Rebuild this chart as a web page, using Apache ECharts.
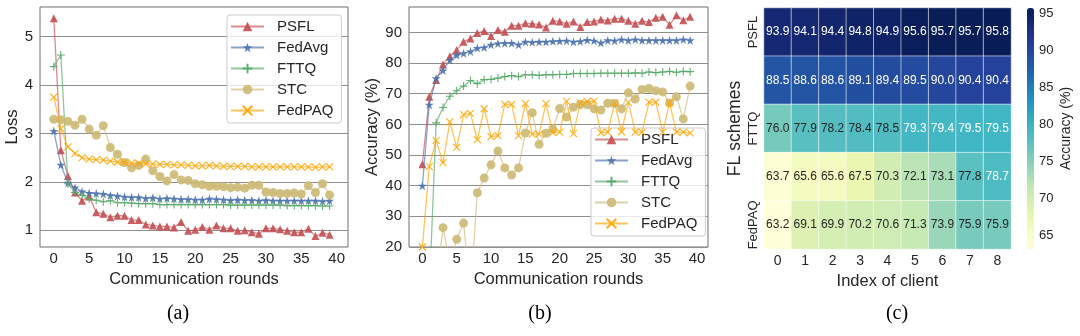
<!DOCTYPE html>
<html>
<head>
<meta charset="utf-8">
<script src="https://cdn.jsdelivr.net/npm/echarts@6/dist/echarts.min.js"></script>
<style>html,body{margin:0;padding:0;background:#fff;}#c{width:1080px;height:336px;}</style>
</head>
<body>
<div id="c"></div>
<script>
// ---------- data ----------
const schemes = ['PSFL', 'FedAvg', 'FTTQ', 'STC', 'FedPAQ'];
const roundTicks = [0, 5, 10, 15, 20, 25, 30, 35, 40];
const lossTicks = [1, 2, 3, 4, 5];
const accTicks = [20, 30, 40, 50, 60, 70, 80, 90];
const cbarTicks = [65, 70, 75, 80, 85, 90, 95];
const clients = ['0', '1', '2', '3', '4', '5', '6', '7', '8'];

const lossPSFL = [5.38,2.65,2.12,1.78,1.61,1.70,1.37,1.34,1.27,1.30,1.30,1.21,1.21,1.12,1.10,1.08,1.08,1.06,1.17,0.99,1.01,1.07,1.01,1.10,1.04,1.04,0.99,1.00,0.96,0.93,1.04,1.04,1.02,0.99,0.96,0.96,1.03,0.88,0.95,0.91];
const lossFedAvg = [3.05,2.35,1.98,1.88,1.80,1.77,1.76,1.75,1.72,1.71,1.69,1.68,1.68,1.66,1.67,1.65,1.66,1.65,1.64,1.64,1.63,1.63,1.65,1.64,1.63,1.62,1.63,1.62,1.62,1.61,1.62,1.61,1.61,1.61,1.61,1.61,1.61,1.61,1.60,1.61];
const lossFTTQ = [4.38,4.62,1.96,1.78,1.72,1.65,1.62,1.59,1.61,1.57,1.57,1.56,1.55,1.55,1.55,1.53,1.53,1.53,1.53,1.53,1.53,1.53,1.53,1.53,1.53,1.52,1.52,1.52,1.52,1.52,1.52,1.52,1.52,1.51,1.51,1.51,1.51,1.51,1.50,1.50];
const lossSTC = [3.29,3.28,3.25,3.17,3.29,3.09,2.96,3.16,2.71,2.57,2.40,2.29,2.34,2.47,2.23,2.11,2.02,2.15,2.04,2.03,1.96,1.94,1.91,1.91,1.90,1.88,1.89,1.87,1.93,1.93,1.79,1.78,1.76,1.76,1.77,1.75,1.92,1.78,1.96,1.73];
const lossFedPAQ = [3.75,3.10,2.72,2.59,2.50,2.47,2.46,2.45,2.43,2.41,2.40,2.39,2.38,2.37,2.37,2.36,2.36,2.35,2.35,2.34,2.33,2.33,2.34,2.33,2.32,2.32,2.32,2.32,2.31,2.31,2.31,2.31,2.31,2.31,2.31,2.31,2.31,2.30,2.31,2.31];

const accPSFL = [47,69,74.5,79.5,82.2,84.3,87,88,89.8,90.5,88.8,90.8,90.2,92.2,92.2,93,92.8,92.6,91.6,93.8,93.6,92.8,93.6,91.8,93.4,93.6,94.2,93.9,94.5,94.5,93.8,92.8,93.8,93.4,94.8,95.1,92.5,95.6,94.0,95.1];
const accFedAvg = [40,66.4,75,77.6,81,82.6,83.2,83.8,84.9,85.1,86,86.4,86.5,86.5,86,86.9,86.8,86.9,86.9,87.1,87.2,87.3,86.9,87.1,87.5,87.3,86.6,87.4,87.3,87.7,87.4,87.7,87.4,87.4,87.4,87.4,87.4,87.4,87.7,87.4];
const accFTTQ = [3,5,60.5,65.5,69.2,71,72.5,74.3,73.3,74.6,74.7,75.1,75.6,75.9,75.6,76.2,76.2,76.0,76.2,76.2,76.3,76.3,76.6,76.6,76.6,76.6,76.7,76.7,76.7,76.7,76.7,76.8,76.7,77.1,76.9,77.1,77.3,77.0,77.3,77.2];
const accSTC = [10,9,7.8,26.3,15,22.5,27.8,5,37.7,42.5,46.8,51.3,45.8,43.5,45.8,57.2,63.8,53.5,57.1,58.5,65.2,62.4,65.6,66.5,66.4,65.1,64.7,66.9,66.8,65.1,70.3,68.3,71.4,71.7,71.0,70.6,67.0,69.0,61.8,72.5];
const accFedPAQ = [20,46.2,54.8,47.5,60.8,52.5,63.2,63.6,55,65.1,56,56.3,66.5,66.5,56.3,66.8,56.8,56.8,66.8,57.3,57.5,67.5,57,67.1,67.5,67.6,57.3,57.5,67,57.6,67.2,57.5,57.5,67.3,67.3,57.5,67,57.5,57.5,57.2];

const heatPSFL = [93.9,94.1,94.4,94.8,94.9,95.6,95.7,95.7,95.8];
const heatFedAvg = [88.5,88.6,88.6,89.1,89.4,89.5,90.0,90.4,90.4];
const heatFTTQ = [76.0,77.9,78.2,78.4,78.5,79.3,79.4,79.5,79.5];
const heatSTC = [63.7,65.6,65.6,67.5,70.3,72.1,73.1,77.8,78.7];
const heatFedPAQ = [63.2,69.1,69.9,70.2,70.6,71.3,73.9,75.9,75.9];

// ---------- styling ----------
const FONT = 'Liberation Sans';
const TXT = '#262626';
const colors = ['#C44E52', '#4C72B0', '#55A868', '#CCB974', '#FFA500'];
const STAR = 'path://M50,0 L61.2,34.5 L97.6,34.5 L68.2,55.9 L79.4,90.5 L50,69.1 L20.6,90.5 L31.8,55.9 L2.4,34.5 L38.8,34.5 Z';
const PLUS = 'path://M5,0 L5,10 M0,5 L10,5';
const CROSS = 'path://M0,0 L10,10 M10,0 L0,10';
const symbols = [
  {symbol: 'triangle', size: 8, bw: 0},
  {symbol: STAR, size: 9, bw: 0},
  {symbol: PLUS, size: 8, bw: 1.1},
  {symbol: 'circle', size: 9, bw: 0},
  {symbol: CROSS, size: 7, bw: 1.1}
];
const lossSeries = [lossPSFL, lossFedAvg, lossFTTQ, lossSTC, lossFedPAQ];
const accSeries = [accPSFL, accFedAvg, accFTTQ, accSTC, accFedPAQ];
const heatRows = [heatPSFL, heatFedAvg, heatFTTQ, heatSTC, heatFedPAQ];

function pairs(arr) { return arr.map((v, i) => [i, v]); }

function makeLine(name, idx, arr, gi) {
  const s = symbols[idx];
  const c = colors[idx];
  return {
    type: 'line', name: name, xAxisIndex: gi, yAxisIndex: gi,
    data: pairs(arr), symbol: s.symbol, symbolSize: s.size,
    showAllSymbol: true, clip: true,
    lineStyle: {width: 1.3, color: c, opacity: 0.65},
    itemStyle: {color: c, borderColor: c, borderWidth: s.bw, opacity: 0.9},
    emphasis: {disabled: true}, animation: false, z: 2 + idx
  };
}

const series = [];
schemes.forEach((n, i) => series.push(makeLine(n, i, lossSeries[i], 0)));
schemes.forEach((n, i) => series.push(makeLine(n, i, accSeries[i], 1)));

const heatData = [];
heatRows.forEach((row, r) => row.forEach((v, c) => {
  heatData.push({value: [c, r, v], label: {color: v >= 78.6 ? '#ffffff' : TXT}});
}));
series.push({
  type: 'heatmap', xAxisIndex: 2, yAxisIndex: 2, data: heatData,
  label: {show: true, fontFamily: FONT, fontSize: 12, formatter: p => p.value[2].toFixed(1)},
  itemStyle: {borderColor: 'rgba(255,255,255,0.7)', borderWidth: 0.8},
  emphasis: {disabled: true}, animation: false
});

const gridLine = {show: true, lineStyle: {color: '#8f8f8f', width: 1}};
const axisLabelStyle = {color: TXT, fontFamily: FONT, fontSize: 15};
const nameStyle = {color: TXT, fontFamily: FONT, fontSize: 16.5};

function roundsAxis(gi) {
  return {
    type: 'value', gridIndex: gi, min: -1.95, max: 41.6,
    axisLine: {show: false}, axisTick: {show: false, customValues: roundTicks},
    splitLine: {show: false},
    axisLabel: Object.assign({customValues: roundTicks, margin: 4}, axisLabelStyle),
    name: 'Communication rounds', nameLocation: 'middle', nameGap: 20,
    nameTextStyle: nameStyle
  };
}

const legendBase = {
  orient: 'vertical', itemWidth: 33, itemHeight: 12, itemGap: 6,
  backgroundColor: 'rgba(255,255,255,0.8)', borderColor: '#cccccc', borderWidth: 1, borderRadius: 3,
  textStyle: {color: TXT, fontFamily: FONT, fontSize: 15, padding: [0, 0, 0, 8]},
  data: schemes, selectedMode: false
};

const option = {
  backgroundColor: '#ffffff',
  animation: false,
  grid: [
    {left: 40, top: 7, width: 308, height: 240, show: true, borderColor: '#6e6e6e', borderWidth: 1, backgroundColor: 'transparent'},
    {left: 409, top: 7, width: 299, height: 240, show: true, borderColor: '#6e6e6e', borderWidth: 1, backgroundColor: 'transparent'},
    {left: 764, top: 8, width: 247, height: 241},
    {left: 1027, top: 8, width: 7, height: 241}
  ],
  xAxis: [
    roundsAxis(0),
    roundsAxis(1),
    {type: 'category', gridIndex: 2, data: clients, axisLine: {show: false}, axisTick: {show: false},
     splitLine: {show: false}, axisLabel: {color: TXT, fontFamily: FONT, fontSize: 14, margin: 5},
     name: 'Index of client', nameLocation: 'middle', nameGap: 18,
     nameTextStyle: nameStyle},
    {type: 'value', gridIndex: 3, show: false, min: 0, max: 1}
  ],
  yAxis: [
    {type: 'value', gridIndex: 0, min: 0.655, max: 5.61,
     axisLine: {show: false}, axisTick: {show: false, customValues: lossTicks},
     splitLine: gridLine,
     axisLabel: Object.assign({customValues: lossTicks, margin: 7}, axisLabelStyle),
     name: 'Loss', nameLocation: 'middle', nameGap: 17, nameRotate: 90,
     nameTextStyle: nameStyle},
    {type: 'value', gridIndex: 1, min: 20, max: 98.3,
     axisLine: {show: false}, axisTick: {show: false, customValues: accTicks},
     splitLine: gridLine,
     axisLabel: Object.assign({customValues: accTicks, margin: 7}, axisLabelStyle),
     name: 'Accuracy (%)', nameLocation: 'middle', nameGap: 23, nameRotate: 90,
     nameTextStyle: nameStyle},
    {type: 'category', gridIndex: 2, data: schemes, inverse: true, axisLine: {show: false}, axisTick: {show: false},
     splitLine: {show: false}, axisLabel: {color: TXT, fontFamily: FONT, fontSize: 13, rotate: 90, margin: 4},
     name: 'FL schemes', nameLocation: 'middle', nameGap: 20, nameRotate: 90,
     nameTextStyle: {color: TXT, fontFamily: FONT, fontSize: 17.5}},
    {type: 'value', gridIndex: 3, min: 63.2, max: 95.8, position: 'right',
     axisLine: {show: false},
     axisTick: {show: true, length: 3, customValues: cbarTicks, lineStyle: {color: TXT, width: 1}},
     splitLine: {show: false},
     axisLabel: {customValues: cbarTicks, color: TXT, fontFamily: FONT, fontSize: 13, margin: 5},
     name: 'Accuracy (%)', nameLocation: 'middle', nameGap: 25, nameRotate: 90,
     nameTextStyle: {color: TXT, fontFamily: FONT, fontSize: 14}}
  ],
  visualMap: {
    type: 'continuous', seriesIndex: 10, min: 63.2, max: 95.8, calculable: false,
    orient: 'vertical', left: 1027, top: 8, itemWidth: 7, itemHeight: 241, padding: 0,
    text: null, showLabel: false, hoverLink: false,
    inRange: {color: ['#ffffd9', '#edf8b1', '#c7e9b4', '#7fcdbb', '#41b6c4', '#1d91c0', '#225ea8', '#253494', '#081d58']}
  },
  legend: [
    Object.assign({left: 227, top: 15, padding: [4, 8, 5, 3]}, legendBase),
    Object.assign({left: 591, top: 128, padding: [4, 8, 5, 3]}, legendBase)
  ],
  graphic: [
    {type: 'text', x: 178, y: 314, style: {text: '(a)', fontFamily: 'Liberation Serif', fontSize: 20, fill: '#000', textAlign: 'center', textVerticalAlign: 'middle'}},
    {type: 'text', x: 540, y: 314, style: {text: '(b)', fontFamily: 'Liberation Serif', fontSize: 20, fill: '#000', textAlign: 'center', textVerticalAlign: 'middle'}},
    {type: 'text', x: 897, y: 314, style: {text: '(c)', fontFamily: 'Liberation Serif', fontSize: 20, fill: '#000', textAlign: 'center', textVerticalAlign: 'middle'}}
  ],
  series: series
};

const chart = echarts.init(document.getElementById('c'), null, {renderer: 'canvas'});
chart.setOption(option);
</script>
</body>
</html>
